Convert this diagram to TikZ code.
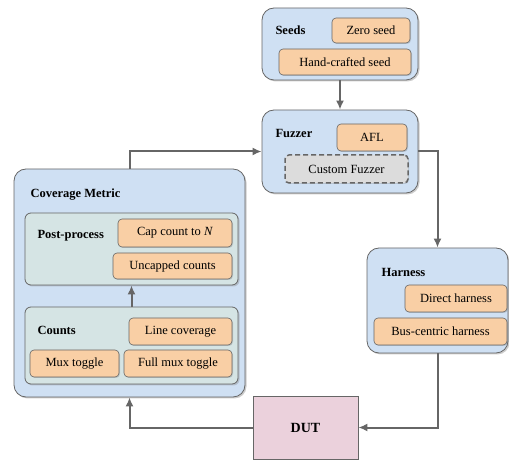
\documentclass[tikz,border=0pt]{standalone}
\usepackage{fontspec}
\setmainfont{Liberation Serif}
\newfontfamily\diagfont{Liberation Serif}
\usepackage{tikz}
\usetikzlibrary{arrows.meta,shadows}
\definecolor{groupblue}{HTML}{CFE0F3}
\definecolor{subgray}{HTML}{D5E4E4}
\definecolor{itemorange}{HTML}{F9CFA5}
\definecolor{customgray}{HTML}{DCDCDC}
\definecolor{dutpink}{HTML}{EBD1DC}
\definecolor{edgegray}{HTML}{666666}
\tikzset{
  group/.style={draw=edgegray,fill=groupblue,rounded corners=12pt,line width=0.8pt,
    drop shadow={shadow xshift=1.5pt,shadow yshift=-1.5pt,opacity=0.4}},
  subgroup/.style={draw=edgegray,fill=subgray,rounded corners=6pt,line width=0.8pt,
    drop shadow={shadow xshift=1.5pt,shadow yshift=-1.5pt,opacity=0.35}},
  item/.style={draw=edgegray,fill=itemorange,rounded corners=4pt,line width=0.6pt,
    font=\diagfont\fontsize{12.5}{14}\selectfont,
    drop shadow={shadow xshift=1pt,shadow yshift=-1pt,opacity=0.3}},
  title/.style={anchor=west,font=\diagfont\fontsize{12.5}{14}\selectfont\bfseries},
  flow/.style={draw=edgegray,line width=2pt,-{Latex[length=9pt,width=8pt]}},
}
\begin{document}
\begin{tikzpicture}[x=1pt,y=-1pt,font=\diagfont]
  \useasboundingbox (0,0) rectangle (509,462);
  % seeds
  \node[group,minimum width=156pt,minimum height=72pt] (seeds) at (340,44){};
  \node[title] (seedsT) at (272,30){Seeds};
  \node[item,minimum width=78pt,minimum height=25pt] (zero) at (371,30.5){Zero seed};
  \node[item,minimum width=132pt,minimum height=26pt] (hand) at (345,62){Hand-crafted seed};
  % fuzzer
  \node[group,minimum width=156pt,minimum height=83pt] (fuzzer) at (340,151.5){};
  \node[title] (fuzzerT) at (272,133){Fuzzer};
  \node[item,minimum width=70pt,minimum height=27pt] (afl) at (372,137.5){AFL};
  \node[item,fill=customgray,dash pattern=on 5pt off 3pt,line width=1.5pt,minimum width=123pt,minimum height=28pt] (custom) at (346.5,169){Custom Fuzzer};
  % coverage metric
  \node[group,minimum width=231pt,minimum height=228pt] (cov) at (129.5,283){};
  \node[title] (covT) at (27,195){Coverage Metric};
  \node[subgroup,minimum width=213pt,minimum height=72pt] (post) at (131.5,249){};
  \node[title] (postT) at (34,236){Post-process};
  \node[item,minimum width=114pt,minimum height=28pt] (cap) at (175,233){Cap count to \textit{N}};
  \node[item,minimum width=119pt,minimum height=26pt] (uncap) at (172.5,266){Uncapped counts};
  \node[subgroup,minimum width=213pt,minimum height=77pt] (counts) at (131.5,345.5){};
  \node[title] (countsT) at (34,330){Counts};
  \node[item,minimum width=103pt,minimum height=27pt] (line) at (180.5,331.5){Line coverage};
  \node[item,minimum width=89pt,minimum height=27pt] (mux) at (74.5,363.5){Mux toggle};
  \node[item,minimum width=108pt,minimum height=27pt] (fullmux) at (178,363.5){Full mux toggle};
  % harness
  \node[group,minimum width=141pt,minimum height=105pt] (harness) at (437.5,300.5){};
  \node[title] (harnessT) at (378,272){Harness};
  \node[item,minimum width=102pt,minimum height=27pt] (direct) at (456,298.5){Direct harness};
  \node[item,minimum width=133pt,minimum height=27pt] (bus) at (440.5,331.5){Bus-centric harness};
  % device under test
  \node[draw=edgegray,fill=dutpink,line width=0.8pt,minimum width=105pt,minimum height=63pt,
    font=\diagfont\fontsize{14}{16}\selectfont\bfseries] (dut) at (305.5,427.5){DUT};
  % connectors
  \draw[flow] (seeds.south) -- (fuzzer.north);
  \draw[flow] (fuzzer.east) -- (fuzzer.east -| harness.north) -- (harness.north);
  \draw[flow] (harness.south) -- (harness.south |- dut.east) -- (dut.east);
  \draw[flow] (dut.west) -- (dut.west -| cov.south) -- (cov.south);
  \draw[flow] (cov.north) -- (cov.north |- fuzzer.west) -- (fuzzer.west);
  \draw[flow] (counts.north) -- (post.south);
\end{tikzpicture}
\end{document}
